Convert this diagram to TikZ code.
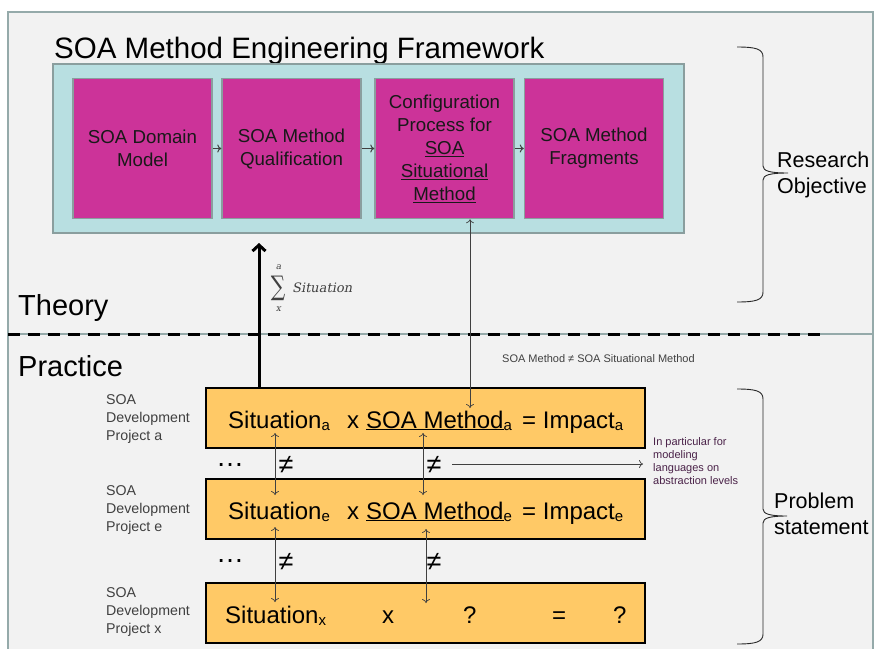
\documentclass[tikz,border=0pt]{standalone}
\usepackage{fontspec}
\setmainfont{Liberation Sans}
\newfontfamily\sumfont{DejaVu Serif}
\newfontfamily\sumslant[FakeSlant=0.2]{DejaVu Serif}
\usetikzlibrary{arrows.meta}

\definecolor{panelfill}{HTML}{F2F2F2}
\definecolor{panelline}{HTML}{95AAAA}
\definecolor{frameblue}{HTML}{B8DFE1}
\definecolor{stepmagenta}{HTML}{CC3399}
\definecolor{stepline}{HTML}{8A9E9E}
\definecolor{caseyellow}{HTML}{FFC966}
\definecolor{labelgray}{HTML}{404040}
\definecolor{notepurple}{HTML}{4A2248}

\newcommand{\fs}[2]{\fontsize{#1}{#2}\selectfont}
\newcommand{\lowidx}[1]{\raisebox{-2pt}{\fontsize{15}{15}\selectfont #1}}

\begin{document}
\begin{tikzpicture}[x=1pt,y=-1pt,
  stepbox/.style={rectangle, draw=stepline, line width=1.5pt, fill=stepmagenta,
    minimum width=139pt, minimum height=140pt, inner sep=0pt, align=center,
    font=\fs{18.7}{23}, text=black!90},
  casebox/.style={rectangle, draw=black, line width=2pt, fill=caseyellow,
    minimum width=439pt, minimum height=60pt, inner sep=0pt},
  casetext/.style={anchor=base west, inner sep=0pt, font=\fs{24}{28}},
  sidelabel/.style={anchor=west, align=left, inner sep=0pt, font=\fs{14.2}{18}, text=labelgray},
  bigtitle/.style={anchor=base west, inner sep=0pt, font=\fs{29}{34}},
  sidetext/.style={anchor=west, align=left, inner sep=0pt, font=\fs{21.5}{25.5}},
  neqsign/.style={inner sep=0pt, font=\fs{27}{27}},
  ellip/.style={inner sep=0pt, font=\fs{28}{28}},
  sumpart/.style={inner sep=0pt, text=labelgray},
  smallarrow/.style={draw=labelgray, line width=1pt, -{To[length=4pt,width=8pt]}},
  thinlink/.style={draw=labelgray, line width=0.7pt, {To[length=4pt,width=8pt]}-{To[length=4pt,width=8pt]}},
  noteline/.style={draw=labelgray, line width=0.7pt, -{To[length=4pt,width=8pt]}},
  bracepath/.style={draw=black!85, line width=0.9pt}]

\useasboundingbox (0,0) rectangle (874,648);

% two panels: theory above, practice below
\fill[white] (0,0) rectangle (874,648);
\draw[panelline, line width=1.5pt, fill=panelfill] (8,12) rectangle (873,660);
\draw[panelline, line width=1.5pt] (8,334) -- (873,334);
\draw[black, line width=3pt, dash pattern=on 12pt off 8pt] (8,334) -- (827,334);

\node[bigtitle] (theory) at (18,315) {Theory};
\node[bigtitle] (practice) at (18,376) {Practice};

% framework with its four parts
\node[bigtitle, font=\fs{29.5}{34}] (title) at (54,58) {SOA Method Engineering Framework};
\node[rectangle, draw=stepline, line width=1.5pt, fill=frameblue,
      minimum width=631pt, minimum height=169pt, inner sep=0pt] (frame) at (368.5,148.5) {};

\node[stepbox] (b1) at (142.5,148.5) {SOA Domain\\Model};
\node[stepbox] (b2) at (291.5,148.5) {SOA Method\\Qualification};
\node[stepbox] (b3) at (444.5,148.5) {Configuration\\Process  for\\\underline{SOA}\\\underline{Situational}\\\underline{Method}};
\node[stepbox] (b4) at (594,148.5) {SOA Method\\Fragments};

\draw[smallarrow] (b1) -- (b2);
\draw[smallarrow] (b2) -- (b3);
\draw[smallarrow] (b3) -- (b4);

% development projects
\node[casebox] (ya) at (425.5,418) {};
\node[casebox] (ye) at (425.5,509) {};
\node[casebox] (yx) at (425.5,612.5) {};

\node[casetext] (sa) at (228,428) {Situation\lowidx{a}};
\node[casetext] (xa) at (347,428) {x};
\node[casetext] (ma) at (366,428) {\underline{SOA Method}\lowidx{a}};
\node[casetext] (ia) at (522,428) {= Impact\lowidx{a}};

\node[casetext] (se) at (228,519) {Situation\lowidx{e}};
\node[casetext] (xe) at (347,519) {x};
\node[casetext] (me) at (366,519) {\underline{SOA Method}\lowidx{e}};
\node[casetext] (ie) at (522,519) {= Impact\lowidx{e}};

\node[casetext] (sx) at (225,623) {Situation\lowidx{x}};
\node[casetext] (xx) at (382,623) {x};
\node[casetext] (qm) at (463,623) {?};
\node[casetext] (eq) at (552,623) {=};
\node[casetext] (qi) at (613,623) {?};

\node[sidelabel] (pa) at (106,419) {SOA\\Development\\Project a};
\node[sidelabel] (pe) at (106,510) {SOA\\Development\\Project e};
\node[sidelabel] (px) at (106,612) {SOA\\Development\\Project x};

% aggregation of situations into the framework
\coordinate (sumtip) at (259,243);
\draw[line width=3pt, -{Straight Barb[length=6pt,width=13pt]}] (ya.north -| sumtip) -- (sumtip);
\node[sumpart, font=\sumfont\fs{27}{27}] (sumsign) at (278,288) {\scalebox{0.75}[1]{∑}};
\node[sumpart, font=\sumslant\fs{9}{9}] (sumtop) at (278.5,267) {a};
\node[sumpart, font=\sumslant\fs{9}{9}] (sumbot) at (278.5,309) {x};
\node[sumpart, anchor=west, font=\sumslant\fs{13}{15}] (sumterm) at (292,288) {Situation};

\coordinate (cfgfoot) at (470,408);
\draw[thinlink] (b3.south -| cfgfoot) -- (cfgfoot);
\node[anchor=west, inner sep=0pt, text=labelgray, font=\fs{11}{12}] (ineq) at (502,359)
  {SOA Method ≠ SOA Situational Method};

% inequalities between projects
\coordinate (la1) at (275,433); \coordinate (la2) at (275,495);
\coordinate (ra1) at (423,433); \coordinate (ra2) at (423,495);
\coordinate (lb1) at (275,527); \coordinate (lb2) at (275,602);
\coordinate (rb1) at (426,529); \coordinate (rb2) at (426,603);
\draw[thinlink] (la1) -- (la2);
\draw[thinlink] (ra1) -- (ra2);
\draw[thinlink] (lb1) -- (lb2);
\draw[thinlink] (rb1) -- (rb2);

\node[neqsign] (n1) at (286,465) {≠};
\node[neqsign] (n2) at (434,465) {≠};
\node[neqsign] (n3) at (286,562) {≠};
\node[neqsign] (n4) at (434,562) {≠};

\node[ellip] (d1) at (230,465) {…};
\node[ellip] (d2) at (230,561) {…};

\coordinate (notestart) at (452,464);
\coordinate (noteend) at (643,464);
\draw[noteline] (notestart) -- (noteend);
\node[anchor=north west, align=left, inner sep=0pt, text=notepurple, font=\fs{11}{13}] (note)
  at (653,437) {In particular for\\modeling\\languages on\\abstraction levels};

% braces on the right
\draw[bracepath] (737,47) .. controls (756,47) and (763,49) .. (763,57) -- (763,166)
  .. controls (763,171) and (770,173) .. (788,173)
  .. controls (770,173) and (763,175) .. (763,180) -- (763,292)
  .. controls (763,300) and (756,302) .. (737,302);
\node[sidetext] (ro) at (777,175) {Research\\Objective};

\draw[bracepath] (737,389) .. controls (756,389) and (763,391) .. (763,399) -- (763,509)
  .. controls (763,514) and (770,516) .. (787,516)
  .. controls (770,516) and (763,518) .. (763,523) -- (763,634)
  .. controls (763,642) and (756,644) .. (737,644);
\node[sidetext] (ps) at (774,514) {Problem\\statement};

\end{tikzpicture}
\end{document}
